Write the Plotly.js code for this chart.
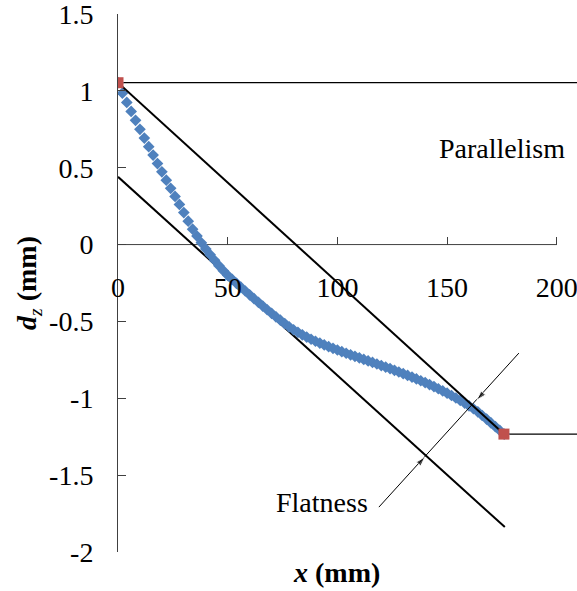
<!DOCTYPE html>
<html><head><meta charset="utf-8">
<script src="https://cdn.plot.ly/plotly-3.0.1.min.js"></script>
<style>html,body{margin:0;padding:0;background:#fff}#chart{width:577px;height:591px}</style>
</head><body><div id="chart"></div>
<script>
// Measured profile d_z(x)
const curveX = [0,2,4,6,8,10,12,14,16,18,20,22,24,26,28,30,32,34,36,38,40,42,44,46,48,50,52,54,56,58,60,62,64,66,68,70,72,74,76,78,80,82,84,86,88,90,92,94,96,98,100,102,104,106,108,110,112,114,116,118,120,122,124,126,128,130,132,134,136,138,140,142,144,146,148,150,152,154,156,158,160,162,164,166,168,170,172,174,176];
const curveY = [1.053,0.985,0.925,0.866,0.808,0.750,0.693,0.637,0.582,0.527,0.473,0.419,0.366,0.313,0.261,0.208,0.152,0.100,0.055,0.012,-0.028,-0.066,-0.102,-0.137,-0.170,-0.200,-0.226,-0.252,-0.277,-0.302,-0.327,-0.352,-0.376,-0.400,-0.424,-0.447,-0.470,-0.492,-0.514,-0.535,-0.554,-0.571,-0.587,-0.602,-0.616,-0.629,-0.641,-0.653,-0.664,-0.675,-0.686,-0.697,-0.707,-0.717,-0.727,-0.737,-0.747,-0.757,-0.767,-0.777,-0.787,-0.797,-0.807,-0.818,-0.829,-0.840,-0.851,-0.862,-0.874,-0.886,-0.898,-0.911,-0.924,-0.938,-0.952,-0.967,-0.982,-0.998,-1.014,-1.031,-1.050,-1.068,-1.088,-1.112,-1.135,-1.160,-1.185,-1.209,-1.233];
// End points of the profile
const endX = [0, 175.9];
const endY = [1.053, -1.233];
// Lower parallel (tangent) line
const lowerX = [0, 176.3];
const lowerY = [0.441, -1.838];
// Horizontal reference lines
const xMax = 209.2;
const topRefX = [0, xMax];
const topRefY = [1.053, 1.053];
const botRefX = [175.9, xMax];
const botRefY = [-1.233, -1.233];
// Flatness dimension arrows: [tail, head]
const arrowLowX = [118.9, 139.9];
const arrowLowY = [-1.708, -1.382];
const arrowUpX = [182.7, 163.6];
const arrowUpY = [-0.706, -1.011];
// Axis ticks
const xTicks = [0, 50, 100, 150, 200];
const xTickText = ['0', '50', '100', '150', '200'];
const yTicks = [1.5, 1, 0.5, 0, -0.5, -1, -1.5, -2];
const yTickText = ['1.5', '1', '0.5', '0', '-0.5', '-1', '-1.5', '-2'];

const FONT = 'Liberation Serif, Times New Roman, serif';
const blackLine = {color: '#000', width: 2};
const thinLine = {color: '#000', width: 1.3};
const arrowMarker = {symbol: ['circle', 'arrow'], size: [0, 10], angleref: 'previous', color: '#000'};

const traces = [
  {x: topRefX, y: topRefY, mode: 'lines', line: thinLine, hoverinfo: 'skip', showlegend: false},
  {x: botRefX, y: botRefY, mode: 'lines', line: thinLine, hoverinfo: 'skip', showlegend: false},
  {x: lowerX, y: lowerY, mode: 'lines', line: blackLine, hoverinfo: 'skip', showlegend: false},
  {x: curveX, y: curveY, mode: 'markers', name: 'd_z',
   marker: {symbol: 'diamond', size: 9, color: '#4F81BD'}, showlegend: false},
  {x: endX, y: endY, mode: 'lines', line: blackLine, hoverinfo: 'skip', showlegend: false},
  {x: endX, y: endY, mode: 'markers', marker: {symbol: 'square', size: 11, color: '#C0504D'}, showlegend: false},
  // Flatness dimension line and its two arrowheads
  {x: [arrowLowX[0], arrowUpX[0]], y: [arrowLowY[0], arrowUpY[0]], mode: 'lines',
   line: {color: '#000', width: 1}, hoverinfo: 'skip', showlegend: false},
  {x: arrowLowX, y: arrowLowY, mode: 'markers', marker: arrowMarker, hoverinfo: 'skip', showlegend: false},
  {x: arrowUpX, y: arrowUpY, mode: 'markers', marker: arrowMarker, hoverinfo: 'skip', showlegend: false}
];

const layout = {
  width: 577, height: 591,
  margin: {l: 118, r: 0, t: 14, b: 39},
  paper_bgcolor: '#fff', plot_bgcolor: '#fff',
  font: {family: FONT, size: 28, color: '#000'},
  showlegend: false,
  xaxis: {
    range: [0, xMax], tickvals: xTicks, ticktext: xTickText,
    anchor: 'free', position: 2 / 3.5,
    showline: false, zeroline: false, showgrid: false,
    ticks: 'inside', ticklen: 8, tickcolor: '#404040', tickwidth: 1,
    ticklabelstandoff: 23, ticklabeloverflow: 'allow',
    tickfont: {family: FONT, size: 28, color: '#000'}
  },
  yaxis: {
    range: [-2, 1.5], tickvals: yTicks, ticktext: yTickText,
    showline: true, linecolor: '#404040', linewidth: 1,
    zeroline: false, showgrid: false,
    ticks: 'inside', ticklen: 8, tickcolor: '#404040', tickwidth: 1,
    ticklabelstandoff: 18, ticklabeloverflow: 'allow',
    tickfont: {family: FONT, size: 28, color: '#000'},
    title: {text: '<b><i>d</i></b><sub><i>z</i></sub><b> (mm)</b>', standoff: 4,
            font: {family: FONT, size: 28, color: '#000'}}
  },
  shapes: [
    {type: 'line', xref: 'x', yref: 'y', x0: 0, x1: 200, y0: 0, y1: 0,
     line: {color: '#404040', width: 1}, layer: 'below'}
  ],
  annotations: [
    {x: 175, y: 0.628, xref: 'x', yref: 'y', text: 'Parallelism', showarrow: false,
     font: {family: FONT, size: 28, color: '#000'}},
    {x: 93, y: -1.675, xref: 'x', yref: 'y', text: 'Flatness', showarrow: false,
     font: {family: FONT, size: 28, color: '#000'}},
    {x: 0.476, y: -0.039, xref: 'paper', yref: 'paper', xanchor: 'center', yanchor: 'middle',
     text: '<b><i>x</i> (mm)</b>', showarrow: false, font: {family: FONT, size: 28, color: '#000'}}
  ]
};

Plotly.newPlot('chart', traces, layout, {displayModeBar: false, staticPlot: true});
</script>
</body></html>
